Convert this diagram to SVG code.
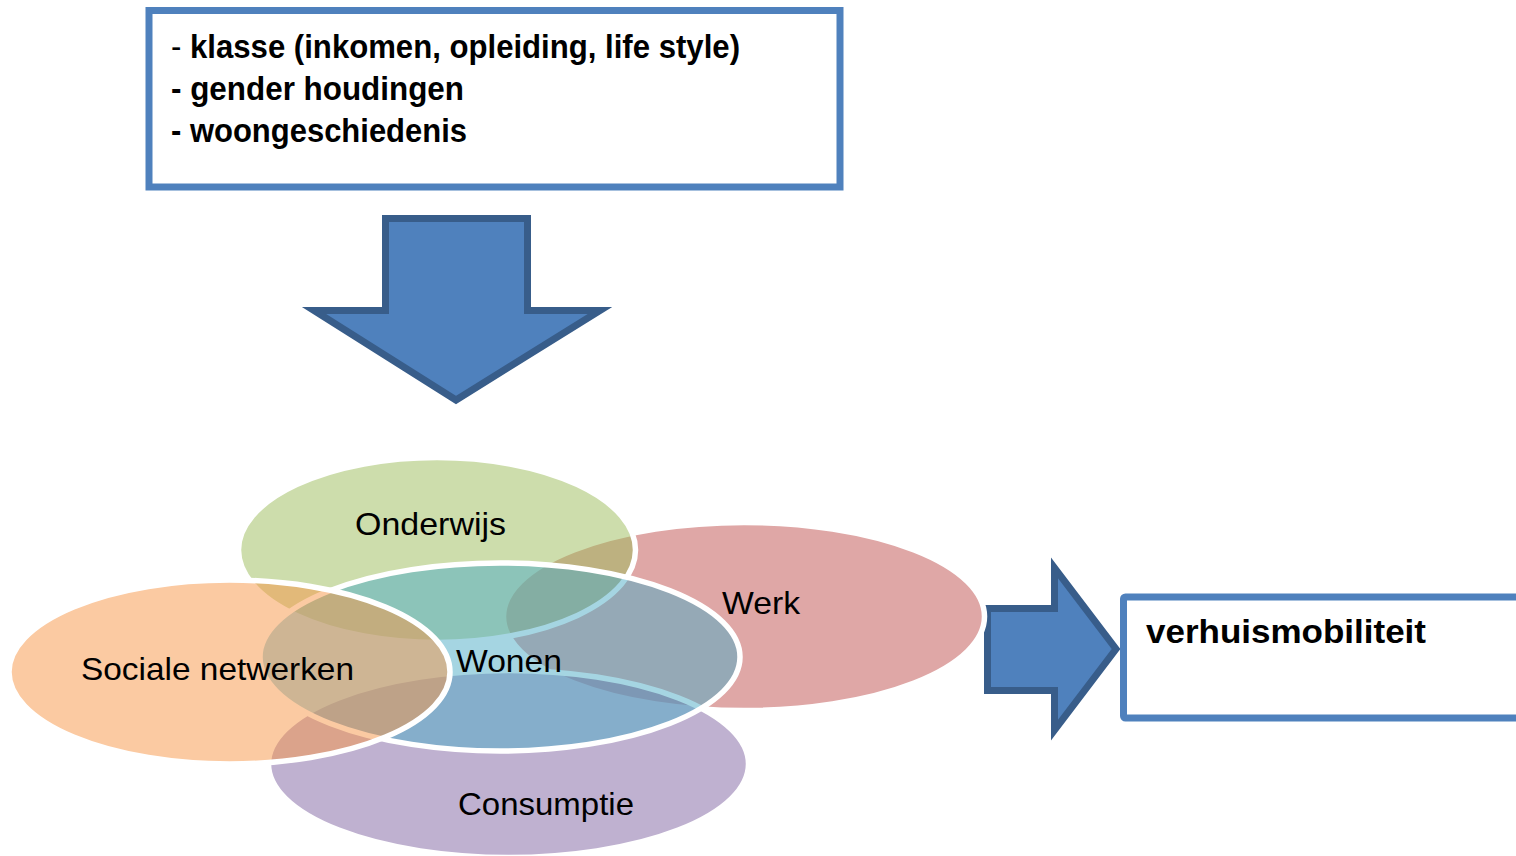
<svg xmlns="http://www.w3.org/2000/svg" width="1516" height="856" viewBox="0 0 1516 856">
  <style>
    .box { fill: #FFFFFF; stroke: #4F81BD; stroke-width: 7; }
    .arrow { fill: #4F81BD; stroke: #385D8A; stroke-width: 7; stroke-linejoin: miter; }
    .venn { stroke: #FFFFFF; stroke-width: 5.5; fill-opacity: 0.5; }
    .bold { font-family: "Liberation Sans", Arial, sans-serif; font-weight: bold; font-size: 33px; fill: #000000; }
    .lbl { font-family: "Liberation Sans", Arial, sans-serif; font-size: 32px; fill: #000000; }
  </style>
  <rect x="0" y="0" width="1516" height="856" fill="#FFFFFF"/>

  <g id="factors">
    <rect class="box" x="149" y="10.5" width="691" height="176.5"/>
    <text class="bold" x="171" y="58" textLength="569" lengthAdjust="spacingAndGlyphs"><tspan font-weight="normal">- </tspan>klasse (inkomen, opleiding, life style)</text>
    <text class="bold" x="171" y="99.5" textLength="293" lengthAdjust="spacingAndGlyphs">- gender houdingen</text>
    <text class="bold" x="171" y="142" textLength="296" lengthAdjust="spacingAndGlyphs">- woongeschiedenis</text>
  </g>

  <g id="connectors">
    <path id="arrow-down" class="arrow" d="M385.5,218.5 H527.5 V310.5 H600 L456,400 L314,310.5 H385.5 Z"/>
    <path id="arrow-right" class="arrow" d="M987.5,608.5 H1054.5 V568 L1116,649 L1054.5,730 V690.5 H987.5 Z"/>
  </g>

  <g id="werk">
    <ellipse class="venn" cx="744" cy="616.5" rx="240.5" ry="94" fill="#C0504D"/>
  </g>
  <g id="consumptie">
    <ellipse class="venn" cx="508.5" cy="764" rx="240" ry="93.5" fill="#8064A2"/>
  </g>
  <g id="onderwijs">
    <ellipse class="venn" cx="437" cy="550" rx="198.5" ry="92.5" fill="#9BBB59"/>
  </g>
  <g id="wonen">
    <ellipse class="venn" cx="500" cy="657" rx="240" ry="94" fill="#4BACC6"/>
  </g>
  <g id="sociale-netwerken">
    <ellipse class="venn" cx="229.5" cy="672" rx="220.5" ry="92" fill="#F79646"/>
  </g>

  <g id="labels">
    <text class="lbl" x="355" y="535" textLength="151" lengthAdjust="spacingAndGlyphs">Onderwijs</text>
    <text class="lbl" x="722" y="614" textLength="78" lengthAdjust="spacingAndGlyphs">Werk</text>
    <text class="lbl" x="81" y="680" textLength="273" lengthAdjust="spacingAndGlyphs">Sociale netwerken</text>
    <text class="lbl" x="456" y="672" textLength="106" lengthAdjust="spacingAndGlyphs">Wonen</text>
    <text class="lbl" x="458" y="815" textLength="176" lengthAdjust="spacingAndGlyphs">Consumptie</text>
  </g>

  <g id="verhuismobiliteit">
    <rect class="box" x="1123.5" y="597" width="420" height="121" rx="2"/>
    <text class="bold" x="1146" y="643" textLength="280" lengthAdjust="spacingAndGlyphs">verhuismobiliteit</text>
  </g>
</svg>
